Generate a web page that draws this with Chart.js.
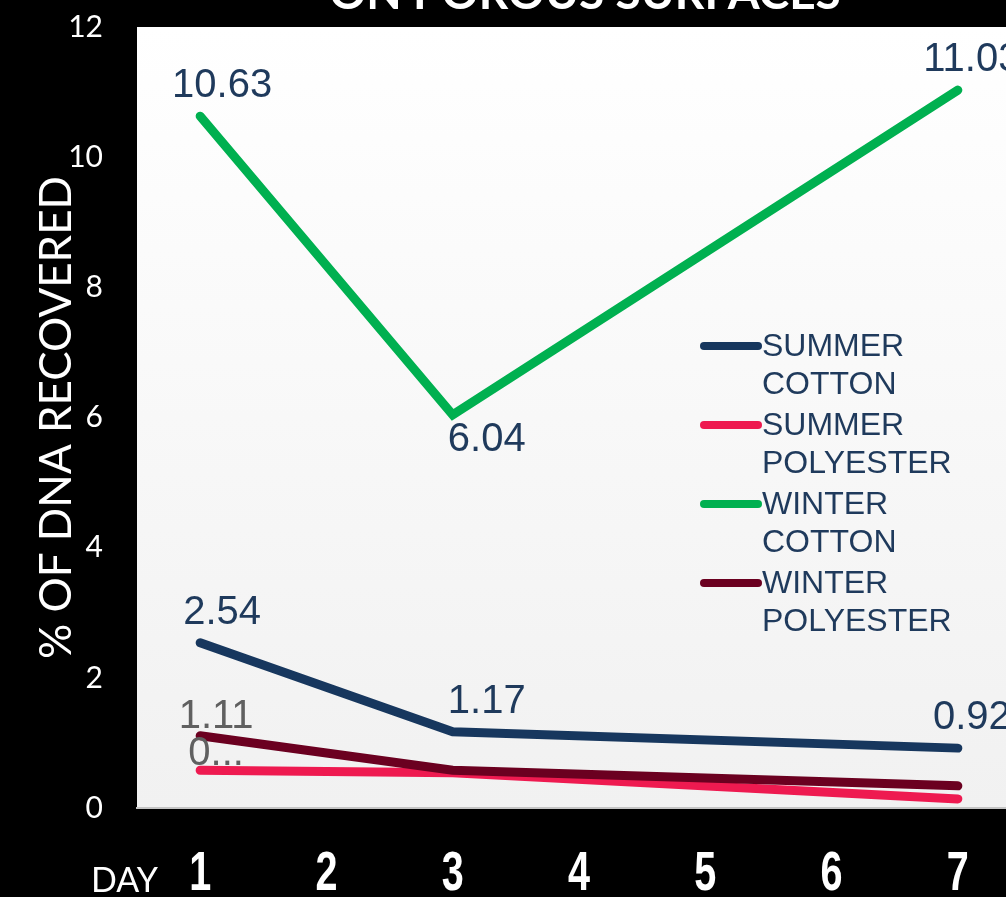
<!DOCTYPE html>
<html>
<head>
<meta charset="utf-8">
<script src="https://cdn.jsdelivr.net/npm/chart.js@4.4.0/dist/chart.umd.min.js"></script>
<style>
  html, body { margin: 0; padding: 0; background: #000; overflow: hidden; }
  #wrap { position: relative; width: 1006px; height: 897px; overflow: hidden; }
  #cont { position: absolute; left: 0; top: 0; width: 1030px; height: 897px; }
</style>
</head>
<body>
<div id="wrap"><div id="cont"><canvas id="grafico"></canvas></div></div>
<script>
// datos del grafico
var dias = ['1', '2', '3', '4', '5', '6', '7'];
var yTicks = [0, 2, 4, 6, 8, 10, 12];

var veranoAlgodon = [2.54, null, 1.17, null, null, null, 0.92];
var veranoPoliester = [0.58, null, 0.54, null, null, null, 0.14];
var inviernoAlgodon = [10.63, null, 6.04, null, null, null, 11.03];
var inviernoPoliester = [1.11, null, 0.58, null, null, null, 0.34];

// etiquetas de datos (null = sin etiqueta)
var etqVeranoAlgodon = ['2.54', null, '1.17', null, null, null, '0.92'];
var etqVeranoPoliester = ['0...', null, null, null, null, null, null];
var etqInviernoAlgodon = ['10.63', null, '6.04', null, null, null, '11.03'];
var etqInviernoPoliester = ['1.11', null, null, null, null, null, null];

var titulo = 'ON POROUS SURFACES';
var tituloY = '% OF DNA RECOVERED';
var tituloX = 'DAY';

// fondo del area del grafico
var fondoPlugin = {
  id: 'fondo',
  beforeDraw: function(chart) {
    var a = chart.chartArea, ctx = chart.ctx;
    var g = ctx.createLinearGradient(0, a.top, 0, a.bottom);
    g.addColorStop(0, '#ffffff');
    g.addColorStop(1, '#f1f1f1');
    ctx.save();
    ctx.fillStyle = g;
    ctx.fillRect(a.left, a.top, a.right - a.left, a.bottom - a.top);
    ctx.restore();
  }
};

// desplazamiento horizontal de las etiquetas segun el dia
var dxEtq = [22, 0, 34, 0, 0, 0, 14];

// titulo, ticks del eje x, etiquetas, leyenda
var extrasPlugin = {
  id: 'extras',
  afterDatasetsDraw: function(chart) {
    var ctx = chart.ctx, a = chart.chartArea, sx = chart.scales.x;
    ctx.save();
    // titulo recortado arriba
    ctx.fillStyle = '#ffffff';
    ctx.font = 'bold 46px Lato, sans-serif';
    ctx.textAlign = 'center';
    ctx.textBaseline = 'alphabetic';
    ctx.fillText(titulo, (a.left + a.right) / 2 + 6, 9);

    // DAY
    ctx.font = '34px Lato, sans-serif';
    ctx.textAlign = 'right';
    ctx.fillText(tituloX, a.left + 21, a.bottom + 84);

    // numeros de dia, letra estrecha
    ctx.font = 'bold 55px "Liberation Sans", Arial, sans-serif';
    ctx.textAlign = 'center';
    dias.forEach(function(d, i) {
      ctx.save();
      ctx.translate(sx.getPixelForTick(i), a.bottom + 82);
      ctx.scale(0.72, 1);
      ctx.fillText(d, 0, 0);
      ctx.restore();
    });

    // etiquetas de datos
    ctx.font = '40px "Liberation Sans", Arial, sans-serif';
    ctx.textAlign = 'center';
    ctx.textBaseline = 'middle';
    chart.data.datasets.forEach(function(ds, i) {
      var meta = chart.getDatasetMeta(i);
      ds.etiquetas.forEach(function(t, j) {
        if (t === null) return;
        var p = meta.data[j];
        var dy = ds.posEtq[j] === 'b' ? 25 : ds.dyEtq;
        var dx = ds.colorEtq === '#606060' ? 16 : dxEtq[j];
        ctx.fillStyle = ds.colorEtq;
        ctx.fillText(t, p.x + dx, p.y + dy);
      });
    });

    // leyenda
    var x0 = a.left + 563, y0 = a.top + 329;
    ctx.font = '32px "Liberation Sans", Arial, sans-serif';
    ctx.textAlign = 'left';
    ctx.textBaseline = 'alphabetic';
    ctx.lineCap = 'round';
    chart.data.datasets.slice().sort(function(p, q) { return p.leyenda - q.leyenda; }).forEach(function(ds, k) {
      var yb = y0 + k * 79;
      ctx.strokeStyle = ds.borderColor;
      ctx.lineWidth = 8;
      ctx.beginPath();
      ctx.moveTo(x0 + 4, yb - 10);
      ctx.lineTo(x0 + 58, yb - 10);
      ctx.stroke();
      ctx.fillStyle = '#1f3a5c';
      ds.label.split(' ').forEach(function(w, n) {
        ctx.fillText(w, x0 + 62, yb + n * 38);
      });
    });
    ctx.restore();
  }
};

function serie(nombre, datos, color, etq, pos, colorEtq, dyEtq, orden, ley) {
  return {
    label: nombre,
    data: datos,
    borderColor: color,
    backgroundColor: color,
    borderWidth: 9,
    borderCapStyle: 'round',
    pointRadius: 0,
    pointHoverRadius: 0,
    spanGaps: true,
    tension: 0,
    order: orden,
    etiquetas: etq,
    posEtq: pos,
    colorEtq: colorEtq,
    dyEtq: dyEtq,
    leyenda: ley
  };
}

var ctx = document.getElementById('grafico').getContext('2d');
var miGrafico = new Chart(ctx, {
  type: 'line',
  data: {
    labels: dias,
    datasets: [
      serie('SUMMER COTTON', veranoAlgodon, '#17375e', etqVeranoAlgodon, ['a', null, 'a', null, null, null, 'a'], '#1f3a5c', -30, 0, 0),
      serie('SUMMER POLYESTER', veranoPoliester, '#ee1a50', etqVeranoPoliester, ['a'], '#606060', -16, 2, 1),
      serie('WINTER COTTON', inviernoAlgodon, '#00b050', etqInviernoAlgodon, ['a', null, 'b', null, null, null, 'a'], '#1f3a5c', -30, 3, 2),
      serie('WINTER POLYESTER', inviernoPoliester, '#6b0020', etqInviernoPoliester, ['a'], '#606060', -19, 1, 3)
    ]
  },
  options: {
    responsive: true,
    maintainAspectRatio: false,
    animation: false,
    events: [],
    layout: { padding: { top: 27, right: 9, left: 0, bottom: 0 } },
    plugins: {
      legend: { display: false },
      title: { display: false },
      tooltip: { enabled: false }
    },
    scales: {
      x: {
        offset: true,
        grid: { display: false, drawTicks: false, offset: true },
        border: { display: true, color: '#c4c4c4', width: 2 },
        ticks: { display: false },
        afterFit: function(s) { s.height = 89; s.paddingLeft = 0; s.paddingRight = 0; }
      },
      y: {
        min: 0,
        max: 12,
        afterBuildTicks: function(s) { s.ticks = yTicks.map(function(v) { return { value: v }; }); },
        grid: { display: false, drawTicks: false },
        border: { display: false },
        ticks: {
          color: '#ffffff',
          padding: 34,
          font: { family: 'Lato, sans-serif', size: 30 }
        },
        title: {
          display: true,
          text: tituloY,
          color: '#ffffff',
          padding: { top: 35, bottom: 0 },
          font: { family: 'Lato, sans-serif', size: 44, lineHeight: 1 }
        },
        afterFit: function(s) { s.width = 137; s.paddingTop = 0; s.paddingBottom = 0; }
      }
    }
  },
  plugins: [fondoPlugin, extrasPlugin]
});
</script>
</body>
</html>
